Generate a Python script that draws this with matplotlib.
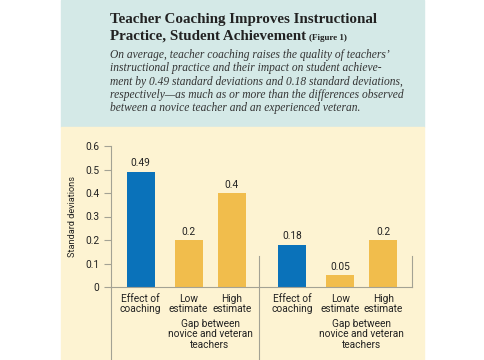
import matplotlib
matplotlib.use("Agg")
import matplotlib.pyplot as plt
from matplotlib.patches import Rectangle
from matplotlib.lines import Line2D

# data
categories = ["Effect of\ncoaching", "Low\nestimate", "High\nestimate"]
practice_vals = [0.49, 0.2, 0.4]
achievement_vals = [0.18, 0.05, 0.2]
value_labels_practice = ["0.49", "0.2", "0.4"]
value_labels_achieve = ["0.18", "0.05", "0.2"]
gap_label = "Gap between\nnovice and veteran\nteachers"
y_ticks = [0, 0.1, 0.2, 0.3, 0.4, 0.5, 0.6]
y_tick_labels = ["0", "0.1", "0.2", "0.3", "0.4", "0.5", "0.6"]

title1 = "Teacher Coaching Improves Instructional"
title2 = "Practice, Student Achievement"
fig_tag = "(Figure 1)"
subtitle = ["On average, teacher coaching raises the quality of teachers\u2019",
            "instructional practice and their impact on student achieve-",
            "ment by 0.49 standard deviations and 0.18 standard deviations,",
            "respectively\u2014as much as or more than the differences observed",
            "between a novice teacher and an experienced veteran."]

BLUE = "#0a72ba"
GOLD = "#f1bd4c"
TEAL = "#d4e9e7"
CREAM = "#fdf3d2"
LINE = "#a3a294"
TXT = "#222222"

plt.rcParams['font.family'] = ['Roboto', 'DejaVu Sans']

W, H = 485, 360
fig = plt.figure(figsize=(W / 100, H / 100), dpi=100)
fig.patch.set_facecolor("white")

def fx(x):
    return x / W

def fy(y):
    return 1 - y / H

# background panels
fig.patches.append(Rectangle((fx(61), fy(127)), fx(424) - fx(61), fy(0) - fy(127),
                             transform=fig.transFigure, color=TEAL, zorder=-5))
fig.patches.append(Rectangle((fx(61), fy(360)), fx(424) - fx(61), fy(127) - fy(360),
                             transform=fig.transFigure, color=CREAM, zorder=-5))

# titles
serif = "Liberation Serif"
t = fig.text(fx(110), fy(23), title1, fontsize=10.8, fontweight="bold",
             family=serif, color="#222222", va="baseline")
t2 = fig.text(fx(110), fy(40), title2, fontsize=10.8, fontweight="bold",
              family=serif, color="#222222", va="baseline")
fig.canvas.draw()
bb = t2.get_window_extent()
fig.text(bb.x1 / W + fx(3), fy(40), fig_tag, fontsize=6.5, fontweight="bold",
         family=serif, color="#222222", va="baseline")
for i, line in enumerate(subtitle):
    fig.text(fx(110), fy(58 + i * 13.3), line, fontsize=8.3, style="italic",
             family=serif, color="#333333", va="baseline")

# axes
ax_left, ax_right = 111, 412
ax_top, ax_bot = 146, 287
ax = fig.add_axes([fx(ax_left), fy(ax_bot), fx(ax_right) - fx(ax_left), fy(ax_top) - fy(ax_bot)])
ax.set_facecolor("none")

unit = 48.0
offsets = [0, 1.0, 1.9]
group_shift = 3.16
x1 = [o for o in offsets]
x2 = [o + group_shift for o in offsets]
bar_w = 28 / unit
colors = [BLUE, GOLD, GOLD]
fs = 7.3

ax.bar(x1, practice_vals, width=bar_w, color=colors, zorder=2)
ax.bar(x2, achievement_vals, width=bar_w, color=colors, zorder=2)
for xs, vals, labs in [(x1, practice_vals, value_labels_practice),
                       (x2, achievement_vals, value_labels_achieve)]:
    for x, v, lab in zip(xs, vals, labs):
        ax.annotate(lab, (x, v), xytext=(0, 2.5), textcoords="offset points",
                    ha="center", va="bottom", fontsize=fs, color=TXT)

ax.set_xlim((ax_left - 140.5) / unit, (ax_right - 140.5) / unit)
ax.set_ylim(0, 0.6)
ax.set_yticks(y_ticks)
ax.set_yticklabels(y_tick_labels, fontsize=fs, color=TXT)
ax.tick_params(axis="y", length=5, width=0.8, color=LINE, pad=3.5)
ax.set_xticks([])
for s in ["top", "right"]:
    ax.spines[s].set_visible(False)
ax.spines["left"].set_color(LINE)
ax.spines["bottom"].set_color(LINE)
ax.spines["left"].set_linewidth(0.8)
ax.spines["bottom"].set_linewidth(0.8)
ax.set_ylabel("Standard deviations", fontsize=6.6, color=TXT, labelpad=6)

# category labels below
for xs in (x1, x2):
    for x, c in zip(xs, categories):
        ax.annotate(c, (x, 0), xytext=(0, -5), textcoords="offset points",
                    ha="center", va="top", fontsize=fs, color=TXT,
                    linespacing=1.05, annotation_clip=False)
    ax.annotate(gap_label, ((xs[1] + xs[2]) / 2, 0), xytext=(0, -23),
                textcoords="offset points", ha="center", va="top", fontsize=fs,
                color=TXT, linespacing=1.05, annotation_clip=False)

# separator lines
fig.add_artist(Line2D([fx(ax_left), fx(ax_left)], [fy(ax_bot), fy(360)], color=LINE, lw=0.8))
fig.add_artist(Line2D([fx(259), fx(259)], [fy(256), fy(360)], color=LINE, lw=0.8))
fig.add_artist(Line2D([fx(ax_right), fx(ax_right)], [fy(256), fy(ax_bot)], color=LINE, lw=0.8))

fig.savefig("out.png", dpi=100)
